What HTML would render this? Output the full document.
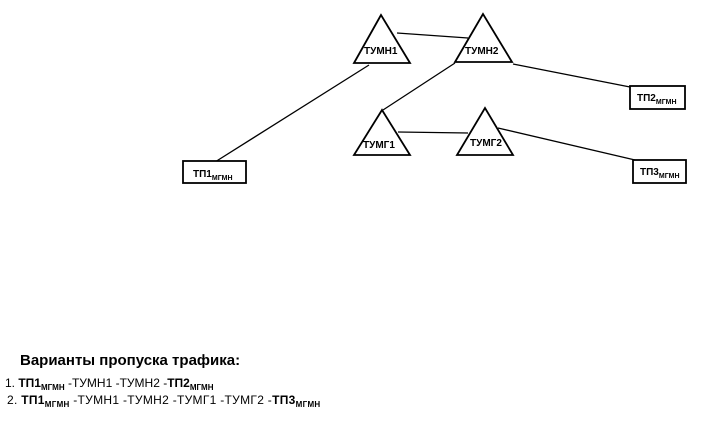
<!DOCTYPE html>
<html><head><meta charset="utf-8"><style>
html,body{margin:0;padding:0;background:#fff;width:713px;height:431px;overflow:hidden}
svg{position:absolute;left:0;top:0}
text{font-family:"Liberation Sans",sans-serif;fill:#000}
.t{font-size:10px;font-weight:bold}
.s{font-size:7px;font-weight:bold}
.l{position:absolute;font-family:"Liberation Sans",sans-serif;font-size:12px;white-space:nowrap;line-height:14px}
.l sub{font-size:8px;font-weight:bold;vertical-align:-3px}
</style></head><body>
<svg width="713" height="431" viewBox="0 0 713 431">
<g stroke="#000" stroke-width="1.3" fill="none">
<line x1="397" y1="33" x2="468" y2="38"/>
<line x1="369" y1="65" x2="215" y2="162"/>
<line x1="513" y1="64" x2="630" y2="87"/>
<line x1="455" y1="63" x2="383" y2="110"/>
<line x1="398" y1="132" x2="468" y2="133"/>
<line x1="498" y1="128" x2="635" y2="160"/>
</g>
<g stroke="#000" stroke-width="1.8" fill="#fff">
<polygon points="381,15 354,63 410,63"/>
<polygon points="483,14 455,62 512,62"/>
<polygon points="382,110 354,155 410,155"/>
<polygon points="485,108 457,155 513,155"/>
<rect x="183" y="161" width="63" height="22"/>
<rect x="630" y="86" width="55" height="23"/>
<rect x="633" y="160" width="53" height="23"/>
</g>
<text class="t" x="364" y="54" font-size="9">ТУМН1</text>
<text class="t" x="465" y="54" font-size="9">ТУМН2</text>
<text class="t" x="363" y="148" font-size="9">ТУМГ1</text>
<text class="t" x="470" y="146" font-size="9">ТУМГ2</text>
<text class="t" x="193" y="177">ТП1<tspan class="s" dy="3">МГМН</tspan></text>
<text class="t" x="637" y="101">ТП2<tspan class="s" dy="3">МГМН</tspan></text>
<text class="t" x="640" y="175">ТП3<tspan class="s" dy="3">МГМН</tspan></text>
<text x="20" y="365" font-size="15" font-weight="bold">Варианты пропуска трафика:</text>
</svg>
<div class="l" style="left:5px;top:376px">1. <b>ТП1</b><sub>МГМН</sub> -ТУМН1 -ТУМН2 -<b>ТП2</b><sub>МГМН</sub></div>
<div class="l" style="left:7px;top:393px;letter-spacing:0.3px">2. <b>ТП1</b><sub>МГМН</sub> -ТУМН1 -ТУМН2 -ТУМГ1 -ТУМГ2 -<b>ТП3</b><sub>МГМН</sub></div>
</body></html>
